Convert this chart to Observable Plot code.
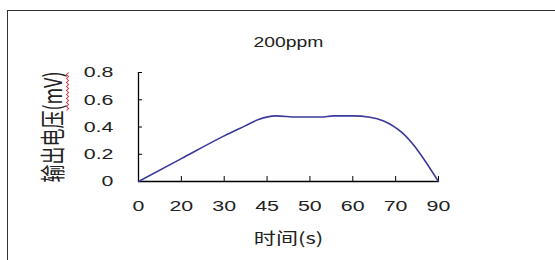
<!DOCTYPE html>
<html><head><meta charset="utf-8">
<script src="https://cdn.jsdelivr.net/npm/d3@7"></script>
<script src="https://cdn.jsdelivr.net/npm/@observablehq/plot@0.6"></script>
<style>
body{margin:0;background:#fff;}
#wrap{position:relative;width:555px;height:260px;overflow:hidden;background:#fff;}
#frame{position:absolute;left:7px;top:10px;width:700px;height:400px;border-left:1.5px solid #333;border-top:1.5px solid #333;}
#chart{position:absolute;left:0;top:0;}
</style>
</head><body>
<div id="wrap"><div id="frame"></div><div id="chart"></div></div>
<script>
const title = "200ppm";
const xLabel = "时间(s)";
const yLabel = "输出电压(mV)";
const xTickLabels = ["0","20","30","45","50","60","70","90"];
const xTickPos = [0,1,2,3,4,5,6,7];
const yTicks = [0,0.2,0.4,0.6,0.8];
const yTickLabels = ["0","0.2","0.4","0.6","0.8"];
// position along the category axis (index units) and output voltage (mV)
const pos = [0,1,2,2.5,2.8,3.2,3.7,4.25,4.55,5.0,5.4,5.72,6.15,7];
const voltage = [0,0.168,0.335,0.41,0.455,0.482,0.473,0.473,0.482,0.482,0.472,0.444,0.358,0];

const data = pos.map((p,i)=>({p, v: voltage[i]}));
const CJK = "'Noto Sans CJK SC', sans-serif";
const LAT = "'Liberation Sans', Arial, sans-serif";

const chart = Plot.plot({
  width:555, height:260,
  marginLeft:138, marginRight:117, marginTop:72, marginBottom:79,
  style:{fontFamily:LAT, fontSize:"15.5px", color:"#222", background:"transparent"},
  x:{domain:[0,7]},
  y:{domain:[0,0.8]},
  marks:[
    Plot.axisX({ticks:xTickPos, tickFormat:i=>xTickLabels[i], tickSize:-5, tickPadding:23.5, label:null, stroke:"#000", fill:"#222"}),
    Plot.axisY({ticks:yTicks, tickFormat:d=>yTickLabels[yTicks.indexOf(d)], tickSize:-4, tickPadding:29, label:null, stroke:"#000", fill:"#222"}),
    Plot.ruleY([0], {stroke:"#000", strokeWidth:1.3}),
    Plot.ruleX([0], {stroke:"#000", strokeWidth:1.3}),
    Plot.line(data, {x:"p", y:"v", stroke:"#3a3a9c", strokeWidth:1.6, curve:"monotone-x"}),
    Plot.text([title], {text:d=>d, frameAnchor:"top", lineAnchor:"middle", textAnchor:"middle", dy:-30, fontSize:14, fill:"#222", fontFamily:LAT}),
    Plot.text([xLabel], {text:d=>d, frameAnchor:"bottom", lineAnchor:"middle", textAnchor:"middle", dy:57, fontSize:16, fill:"#222", fontFamily:CJK}),
    Plot.text([yLabel], {text:d=>d, frameAnchor:"left", lineAnchor:"middle", textAnchor:"middle", dx:-85, rotate:-90, fontSize:18, fill:"#222", fontFamily:CJK})
  ]
});
document.getElementById("chart").appendChild(chart);

// the reference's text is horizontally stretched: widen glyphs around their anchors
const SX = 1.38;
let yLabelNode = null;
chart.querySelectorAll("text").forEach(t=>{
  const b = t.getBBox();
  const tr = t.getAttribute("transform")||"";
  const rotated = /rotate/.test(tr);
  if (rotated) {
    yLabelNode = t;
    const cy = b.y + b.height/2;
    t.setAttribute("transform", `${tr} translate(0,${cy}) scale(1,${SX}) translate(0,${-cy})`);
  } else {
    const a = getComputedStyle(t).textAnchor;
    const cx = a === "end" ? b.x + b.width : a === "middle" ? b.x + b.width/2 : b.x;
    t.setAttribute("transform", `${tr} translate(${cx},0) scale(${SX},1) translate(${-cx},0)`);
  }
});

// red wavy spell-check underline under "(mV)" as in the reference
if (yLabelNode) {
  const n = yLabelNode.getNumberOfChars();
  const s = yLabelNode.getStartPositionOfChar(n - 4);
  const e = yLabelNode.getEndPositionOfChar(n - 1);
  const yy = s.y + 3;
  let d = `M${s.x},${yy}`;
  let k = 0;
  for (let x = s.x + 2; x <= e.x; x += 2, k++) d += `L${x},${yy + (k % 2 ? 0 : 1.6)}`;
  const p = document.createElementNS("http://www.w3.org/2000/svg", "path");
  p.setAttribute("d", d);
  p.setAttribute("fill", "none");
  p.setAttribute("stroke", "#d23a3a");
  p.setAttribute("stroke-width", "0.8");
  p.setAttribute("transform", yLabelNode.getAttribute("transform"));
  yLabelNode.parentNode.appendChild(p);
}
</script>
</body></html>
